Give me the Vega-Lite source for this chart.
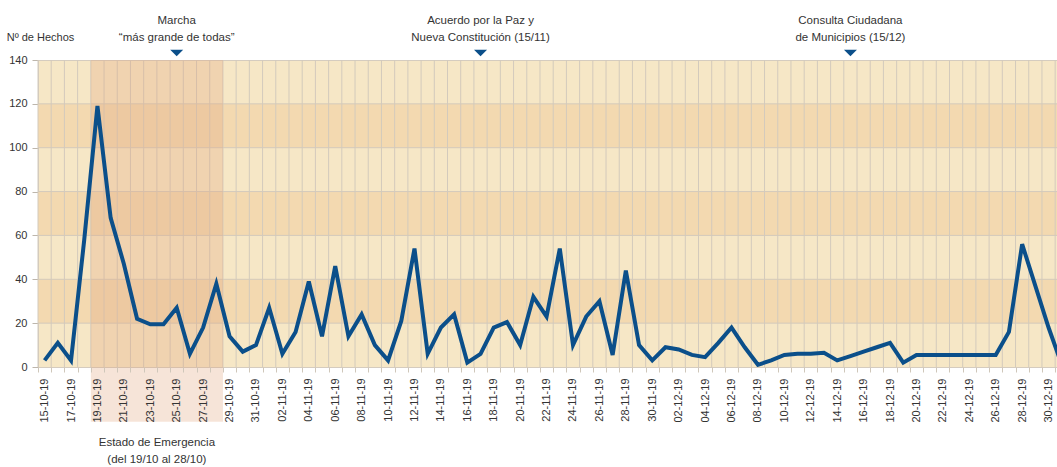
{
  "$schema": "https://vega.github.io/schema/vega-lite/v6.json",
  "width": 1019,
  "height": 307,
  "autosize": {"type": "none"},
  "padding": {"left": 38, "top": 60, "right": 0, "bottom": 100},
  "background": "white",
  "config": {
    "view": {"fill": "#f6e7c6", "stroke": "#d5ccbf"},
    "font": "Liberation Sans"
  },
  "datasets": {
    "hechos": [
      {"fecha": "2019-10-15", "hechos": 3},
      {"fecha": "2019-10-16", "hechos": 11},
      {"fecha": "2019-10-17", "hechos": 3},
      {"fecha": "2019-10-18", "hechos": 58},
      {"fecha": "2019-10-19", "hechos": 119},
      {"fecha": "2019-10-20", "hechos": 68},
      {"fecha": "2019-10-21", "hechos": 47},
      {"fecha": "2019-10-22", "hechos": 22},
      {"fecha": "2019-10-23", "hechos": 19.5},
      {"fecha": "2019-10-24", "hechos": 19.5},
      {"fecha": "2019-10-25", "hechos": 27},
      {"fecha": "2019-10-26", "hechos": 6},
      {"fecha": "2019-10-27", "hechos": 18},
      {"fecha": "2019-10-28", "hechos": 38},
      {"fecha": "2019-10-29", "hechos": 14},
      {"fecha": "2019-10-30", "hechos": 7},
      {"fecha": "2019-10-31", "hechos": 10},
      {"fecha": "2019-11-01", "hechos": 27},
      {"fecha": "2019-11-02", "hechos": 6},
      {"fecha": "2019-11-03", "hechos": 16},
      {"fecha": "2019-11-04", "hechos": 39},
      {"fecha": "2019-11-05", "hechos": 14},
      {"fecha": "2019-11-06", "hechos": 46},
      {"fecha": "2019-11-07", "hechos": 14},
      {"fecha": "2019-11-08", "hechos": 24},
      {"fecha": "2019-11-09", "hechos": 10},
      {"fecha": "2019-11-10", "hechos": 3},
      {"fecha": "2019-11-11", "hechos": 21},
      {"fecha": "2019-11-12", "hechos": 54},
      {"fecha": "2019-11-13", "hechos": 6},
      {"fecha": "2019-11-14", "hechos": 18},
      {"fecha": "2019-11-15", "hechos": 24},
      {"fecha": "2019-11-16", "hechos": 2},
      {"fecha": "2019-11-17", "hechos": 6},
      {"fecha": "2019-11-18", "hechos": 18},
      {"fecha": "2019-11-19", "hechos": 20.5},
      {"fecha": "2019-11-20", "hechos": 10},
      {"fecha": "2019-11-21", "hechos": 32},
      {"fecha": "2019-11-22", "hechos": 23},
      {"fecha": "2019-11-23", "hechos": 54},
      {"fecha": "2019-11-24", "hechos": 10},
      {"fecha": "2019-11-25", "hechos": 23},
      {"fecha": "2019-11-26", "hechos": 30},
      {"fecha": "2019-11-27", "hechos": 5.5},
      {"fecha": "2019-11-28", "hechos": 44},
      {"fecha": "2019-11-29", "hechos": 10},
      {"fecha": "2019-11-30", "hechos": 3},
      {"fecha": "2019-12-01", "hechos": 9},
      {"fecha": "2019-12-02", "hechos": 8},
      {"fecha": "2019-12-03", "hechos": 5.5},
      {"fecha": "2019-12-04", "hechos": 4.5},
      {"fecha": "2019-12-05", "hechos": 11},
      {"fecha": "2019-12-06", "hechos": 18},
      {"fecha": "2019-12-07", "hechos": 9},
      {"fecha": "2019-12-08", "hechos": 1},
      {"fecha": "2019-12-09", "hechos": 3},
      {"fecha": "2019-12-10", "hechos": 5.5},
      {"fecha": "2019-12-11", "hechos": 6},
      {"fecha": "2019-12-12", "hechos": 6},
      {"fecha": "2019-12-13", "hechos": 6.5},
      {"fecha": "2019-12-14", "hechos": 3},
      {"fecha": "2019-12-15", "hechos": 5},
      {"fecha": "2019-12-16", "hechos": 7},
      {"fecha": "2019-12-17", "hechos": 9},
      {"fecha": "2019-12-18", "hechos": 11},
      {"fecha": "2019-12-19", "hechos": 2},
      {"fecha": "2019-12-20", "hechos": 5.5},
      {"fecha": "2019-12-21", "hechos": 5.5},
      {"fecha": "2019-12-22", "hechos": 5.5},
      {"fecha": "2019-12-23", "hechos": 5.5},
      {"fecha": "2019-12-24", "hechos": 5.5},
      {"fecha": "2019-12-25", "hechos": 5.5},
      {"fecha": "2019-12-26", "hechos": 5.5},
      {"fecha": "2019-12-27", "hechos": 16},
      {"fecha": "2019-12-28", "hechos": 56},
      {"fecha": "2019-12-29", "hechos": 37},
      {"fecha": "2019-12-30", "hechos": 18},
      {"fecha": "2019-12-31", "hechos": 1}
    ],
    "franjas": [
      {"desde": 20, "hasta": 40},
      {"desde": 60, "hasta": 80},
      {"desde": 100, "hasta": 120}
    ],
    "eventos": [
      {"fecha": "2019-10-25", "texto": ["Marcha", "“más grande de todas”"]},
      {"fecha": "2019-11-17", "texto": ["Acuerdo por la Paz y", "Nueva Constitución (15/11)"]},
      {"fecha": "2019-12-15", "texto": ["Consulta Ciudadana", "de Municipios (15/12)"]}
    ],
    "emergencia": [
      {"inicio": "2019-10-19", "fin": "2019-10-29", "texto": ["Estado de Emergencia", "(del 19/10 al 28/10)"]}
    ]
  },
  "layer": [
    {
      "data": {"name": "franjas"},
      "mark": {"type": "rect", "color": "#f3d9b0"},
      "encoding": {
        "x": {"value": 0},
        "x2": {"value": "width"},
        "y": {
          "field": "desde",
          "type": "quantitative",
          "scale": {"domain": [0, 140], "nice": false, "zero": true},
          "axis": {
            "values": [0, 20, 40, 60, 80, 100, 120, 140],
            "title": "Nº de Hechos",
            "titleAngle": 0,
            "titleAlign": "center",
            "titleBaseline": "alphabetic",
            "titleX": 2,
            "titleY": -19.5,
            "titleFontSize": 11,
            "titleFontWeight": "normal",
            "titleColor": "#333333",
            "labelFontSize": 11,
            "labelColor": "#333333",
            "tickSize": 6,
            "tickColor": "#bdb6ac",
            "labelPadding": 5,
            "domain": false,
            "grid": false
          }
        },
        "y2": {"field": "hasta"}
      }
    },
    {
      "data": {"name": "franjas"},
      "mark": {"type": "rule", "color": "#d3cabc", "strokeWidth": 1},
      "encoding": {"y": {"field": "desde", "type": "quantitative"}}
    },
    {
      "data": {"name": "franjas"},
      "mark": {"type": "rule", "color": "#d3cabc", "strokeWidth": 1},
      "encoding": {"y": {"field": "hasta", "type": "quantitative"}}
    },
    {
      "data": {"name": "hechos"},
      "mark": {"type": "rule", "color": "#d3cabc", "strokeWidth": 1},
      "encoding": {
        "x": {"field": "fecha", "type": "temporal", "timeUnit": "utcyearmonthdate", "bandPosition": 0}
      }
    },
    {
      "data": {"name": "emergencia"},
      "mark": {"type": "rect", "color": "rgb(225,165,125)", "opacity": 0.3},
      "encoding": {
        "x": {"field": "inicio", "type": "temporal", "timeUnit": "utcyearmonthdate", "bandPosition": 0},
        "x2": {"field": "fin"},
        "y": {"datum": -25, "type": "quantitative"},
        "y2": {"datum": 140}
      }
    },
    {
      "data": {"name": "hechos"},
      "mark": {"type": "line", "color": "#0b4f8a", "strokeWidth": 4, "clip": true},
      "encoding": {
        "x": {
          "field": "fecha",
          "type": "temporal",
          "timeUnit": "utcyearmonthdate",
          "bandPosition": 0.5,
          "scale": {
            "type": "utc",
            "domain": [
              {"year": 2019, "month": 10, "date": 15, "utc": true},
              {"year": 2019, "month": 12, "date": 31, "hours": 3, "minutes": 20, "utc": true}
            ]
          },
          "axis": {
            "title": null,
            "tickCount": {"interval": "day", "step": 1},
            "labelExpr": "round((datum.value - utc(2019, 9, 15)) / 86400000) % 2 == 0 ? utcFormat(datum.value, '%d-%m-%y') : ''",
            "labelAngle": 270,
            "labelAlign": "right",
            "labelBaseline": "middle",
            "labelOffset": 6.6,
            "labelPadding": 6,
            "tickSize": 5,
            "tickColor": "#cfc7ba",
            "labelFontSize": 11,
            "labelColor": "#333333",
            "labelOverlap": false,
            "labelFlush": false,
            "labelBound": false,
            "domain": false,
            "grid": false,
            "zindex": 1
          }
        },
        "y": {"field": "hechos", "type": "quantitative"}
      }
    },
    {
      "data": {"name": "eventos"},
      "mark": {"type": "point", "shape": "M-1,-0.5L1,-0.5L0,0.5Z", "size": 169, "filled": true, "color": "#0b4f8a", "opacity": 1, "yOffset": -7},
      "encoding": {
        "x": {"field": "fecha", "type": "temporal", "timeUnit": "utcyearmonthdate", "bandPosition": 0.5},
        "y": {"datum": 140, "type": "quantitative"}
      }
    },
    {
      "data": {"name": "eventos"},
      "mark": {"type": "text", "align": "center", "baseline": "alphabetic", "dy": -36, "lineHeight": 17, "fontSize": 11.5, "color": "#333333"},
      "encoding": {
        "x": {"field": "fecha", "type": "temporal", "timeUnit": "utcyearmonthdate", "bandPosition": 0.5},
        "y": {"datum": 140, "type": "quantitative"},
        "text": {"field": "texto"}
      }
    },
    {
      "data": {"name": "emergencia"},
      "mark": {"type": "text", "align": "center", "baseline": "alphabetic", "dy": 79, "lineHeight": 16.5, "fontSize": 11.5, "color": "#333333"},
      "encoding": {
        "x": {"datum": {"year": 2019, "month": 10, "date": 24, "utc": true}, "type": "temporal"},
        "y": {"datum": 0, "type": "quantitative"},
        "text": {"field": "texto"}
      }
    }
  ]
}
